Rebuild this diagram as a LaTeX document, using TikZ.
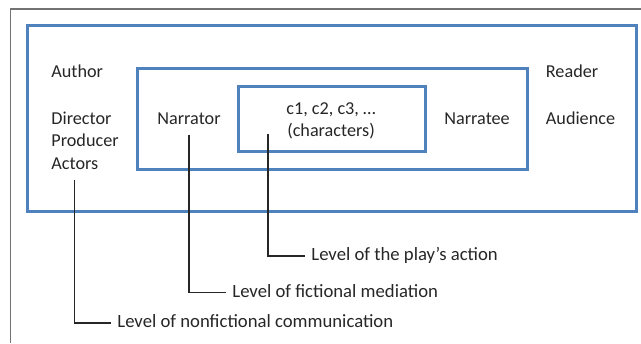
\documentclass[tikz,border=0pt]{standalone}
\usepackage{fontspec}
\setmainfont{Carlito}
\usetikzlibrary{positioning}
\definecolor{boxblue}{RGB}{79,129,189}
\tikzset{
    every node/.style={font=\fontsize{9.1}{11.25}\selectfont, text=black!85},
    bluebox/.style={draw=boxblue, line width=1.5pt, inner sep=0pt},
    person/.style={anchor=base west, inner sep=3pt},
    level/.style={anchor=mid west, inner sep=3pt, font=\fontsize{9.35}{11.25}\selectfont},
    leader/.style={draw=black!85, line width=0.55pt, shorten <=2pt},
}

\begin{document}
\begin{tikzpicture}[x=0.5pt, y=-0.5pt]
\useasboundingbox (0,0) rectangle (641,343);
% frame of the figure
\draw[black!55, line width=0.6pt] (641,9) -- (10.5,9) -- (10.5,343);

% nested levels
\node[bluebox, minimum width=304.5pt, minimum height=93.25pt] (outer) at (331.5,118.25) {};
\node[bluebox, minimum width=195pt, minimum height=50.75pt] (middle) at (332,118.75) {};
\node[bluebox, minimum width=93.75pt, minimum height=32.75pt] (inner) at (331.75,118.75) {};

% communicators
\node[person] (author) at (45,77) {Author};
\node[person] (director) at (45,124) {Director};
\node[person] (producer) at (45,146.5) {Producer};
\node[person] (actors) at (45,169) {Actors};
\node[person] (narrator) at (151,124) {Narrator};
\node[align=center] (chars) at (331,121) {c1, c2, c3, …\\(characters)};
\node[person] (narratee) at (438,124) {Narratee};
\node[person] (reader) at (539.5,77) {Reader};
\node[person] (audience) at (539.5,124) {Audience};

% level labels
\node[level] (action) at (305,256) {Level of the play’s action};
\node[level] (mediation) at (226,292.5) {Level of fictional mediation};
\node[level] (nonfic) at (111,323) {Level of nonfictional communication};

\coordinate (chars-foot) at (268,130);
\draw[leader] (actors.south) |- (nonfic.mid west);
\draw[leader] (narrator.south) |- (mediation.mid west);
\draw[leader] (chars-foot) |- (action.mid west);

\end{tikzpicture}
\end{document}
